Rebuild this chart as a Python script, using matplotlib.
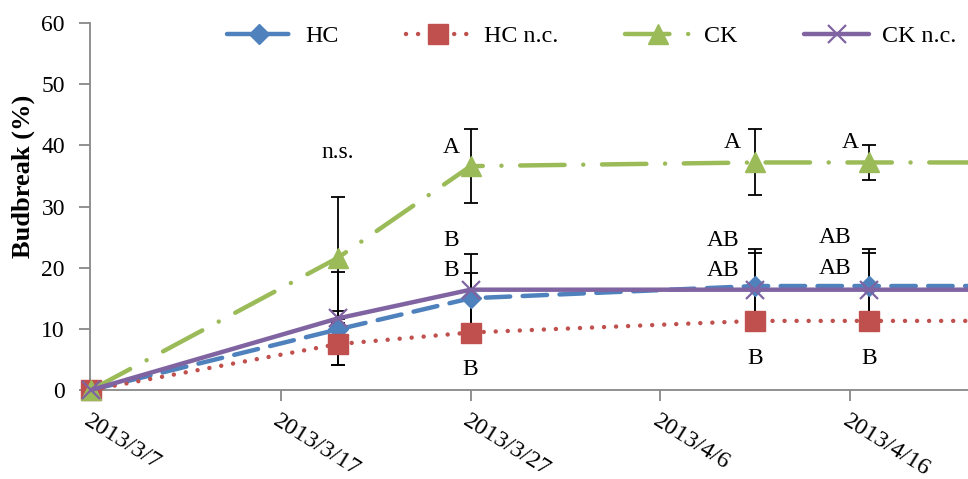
import matplotlib
matplotlib.use("Agg")
import matplotlib.pyplot as plt
import numpy as np
from datetime import datetime, timedelta

plt.rcParams['font.family'] = ['Liberation Serif', 'DejaVu Serif']

# ---- data ----
dates = ["2013-03-07", "2013-03-20", "2013-03-27", "2013-04-11", "2013-04-17", "2013-04-24"]
hc      = [0, 9.9, 15.0, 17.0, 17.0, 17.0]
hc_nc   = [0, 7.5, 9.4, 11.3, 11.3, 11.3]
ck      = [0, 21.6, 36.6, 37.2, 37.2, 37.2]
ck_nc   = [0, 11.7, 16.4, 16.4, 16.4, 16.4]
hc_err    = [0, 3.0, 4.2, 6.0, 6.0, np.nan]
hc_nc_err = [0, 3.4, 0.0, 0.0, 0.0, np.nan]
ck_err    = [0, 10.0, 6.0, 5.4, 2.8, np.nan]
ck_nc_err = [0, 7.6, 5.9, 6.0, 6.0, np.nan]
series_names = ["HC", "HC n.c.", "CK", "CK n.c."]
xtick_dates = ["2013-03-07", "2013-03-17", "2013-03-27", "2013-04-06", "2013-04-16"]
annotations = [  # (text, date, y)
    ("n.s.", "2013-03-20", 38.9),
    ("A", "2013-03-26", 39.7),
    ("B", "2013-03-26", 24.4),
    ("B", "2013-03-26", 19.6),
    ("B", "2013-03-27", 3.3),
    ("A", "2013-04-09 19:00", 40.4),
    ("AB", "2013-04-09 07:00", 24.4),
    ("AB", "2013-04-09 07:00", 19.6),
    ("B", "2013-04-11", 5.1),
    ("A", "2013-04-16", 40.4),
    ("AB", "2013-04-15 05:00", 25.0),
    ("AB", "2013-04-15 05:00", 19.9),
    ("B", "2013-04-17", 5.1),
]

x = [datetime.fromisoformat(d) for d in dates]

fig = plt.figure(figsize=(9.68, 4.79), dpi=100)
ax = fig.add_axes([90/968, 1 - 390/479, 1 - 90/968, (390 - 23)/479])

blue, red, green, purple = "#4F81BD", "#C0504D", "#9BBB59", "#8064A2"
lw = 3.2

# error bars (behind)
for vals, errs in [(hc, hc_err), (hc_nc, hc_nc_err), (ck, ck_err), (ck_nc, ck_nc_err)]:
    e = np.array(errs, dtype=float)
    v = np.array(vals, dtype=float)
    mask = ~np.isnan(e) & (e > 0)
    ax.errorbar(np.array(x)[mask], v[mask], yerr=e[mask], fmt='none', ecolor='black',
                elinewidth=1.3, capsize=5, capthick=1.3, zorder=2)

mk = list(range(5))
l1, = ax.plot(x, hc, color=blue, lw=lw, dashes=(5.5, 2.8), dash_capstyle='round',
              marker='D', ms=10, markevery=mk, zorder=3, label=series_names[0], clip_on=False)
l2, = ax.plot(x, hc_nc, color=red, lw=lw, dashes=(0.01, 2.7), dash_capstyle='round',
              marker='s', ms=14, markevery=mk, zorder=3, label=series_names[1], clip_on=False)
l3, = ax.plot(x, ck, color=green, lw=lw, dashes=(10, 4.2, 0.01, 4.2), dash_capstyle='round',
              marker='^', ms=15, markevery=mk, zorder=3, label=series_names[2], clip_on=False)
l4, = ax.plot(x, ck_nc, color=purple, lw=lw, solid_capstyle='round',
              marker='x', ms=13, mew=1.6, markevery=mk, zorder=4, label=series_names[3], clip_on=False)

start = datetime.fromisoformat("2013-03-07")
ax.set_xlim(start - timedelta(days=0.05), start + timedelta(days=46.2))
ax.set_ylim(0, 60)
ax.set_yticks(range(0, 61, 10))
xt = [datetime.fromisoformat(d) for d in xtick_dates]
ax.set_xticks(xt)
ax.set_xticklabels([f"{d.year}/{d.month}/{d.day}" for d in xt], rotation=-32,
                   ha='left', va='top', rotation_mode='anchor', fontsize=17.5)
for s in ['top', 'right']:
    ax.spines[s].set_visible(False)
for s in ['left', 'bottom']:
    ax.spines[s].set_color('#888888')
    ax.spines[s].set_linewidth(1.3)
ax.tick_params(axis='both', colors='#888888', labelcolor='black',
               length=8, width=1.3, direction='out')
ax.tick_params(axis='y', labelsize=17, pad=10)
ax.tick_params(axis='x', pad=7)
ax.set_ylabel("Budbreak (%)", fontsize=19, fontweight='bold')
ax.yaxis.set_label_coords(-0.063, 0.583)

for txt, d, yv in annotations:
    ax.text(datetime.fromisoformat(d), yv, txt, fontsize=17, ha='center', va='center', zorder=5)

leg = fig.legend(handles=[l1, l2, l3, l4], loc='center left', bbox_to_anchor=(227/968, 1 - 36/479),
                 ncol=4, frameon=False, fontsize=17.3, handlelength=2.7, handletextpad=0.55,
                 columnspacing=2.8, borderpad=0, borderaxespad=0)

fig.savefig("out.png", dpi=100)
